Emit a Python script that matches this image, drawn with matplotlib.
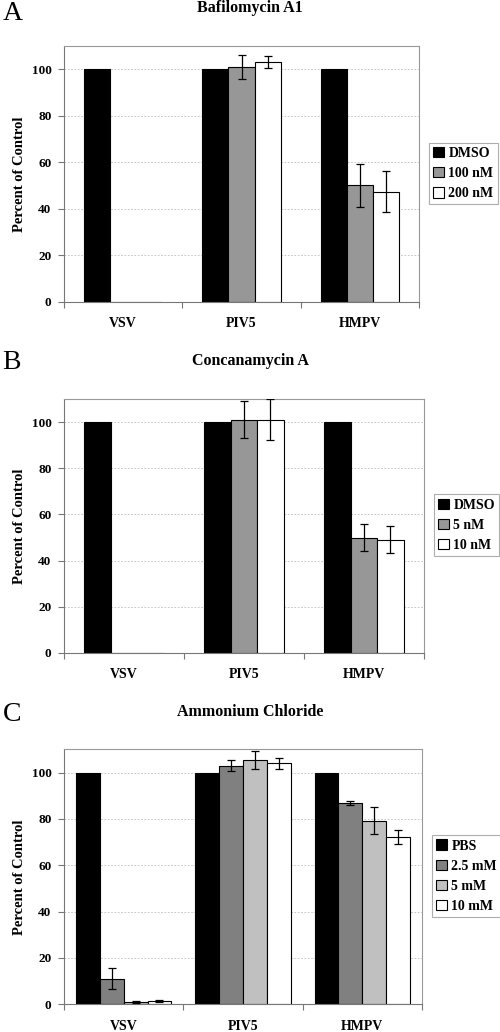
import matplotlib.pyplot as plt
import numpy as np

plt.rcParams['font.family'] = 'Liberation Serif'
plt.rcParams['font.weight'] = 'bold'

viruses = ['VSV', 'PIV5', 'HMPV']

# Panel A: Bafilomycin A1
baf_labels = ['DMSO', '100 nM', '200 nM']
baf_vals = [[100, 100, 100], [0, 101.1, 50.1], [0, 103.3, 47.4]]
baf_errs = [[0, 0, 0], [0, 5.2, 9.1], [0, 2.6, 8.9]]
baf_colors = ['#000000', '#979797', '#ffffff']

# Panel B: Concanamycin A
con_labels = ['DMSO', '5 nM', '10 nM']
con_vals = [[100, 100, 100], [0, 101.2, 49.9], [0, 101.2, 49.1]]
con_errs = [[0, 0, 0], [0, 8.0, 5.9], [0, 9.0, 6.0]]
con_colors = ['#000000', '#979797', '#ffffff']

# Panel C: Ammonium Chloride
amm_labels = ['PBS', '2.5 mM', '5 mM', '10 mM']
amm_vals = [[100, 100, 100], [11.1, 102.9, 86.8], [1.0, 105.5, 79.3], [1.4, 104.0, 72.1]]
amm_errs = [[0, 0, 0], [4.4, 2.4, 0.7], [0.3, 3.9, 5.7], [0.5, 2.3, 2.9]]
amm_colors = ['#000000', '#808080', '#c0c0c0', '#ffffff']

panels = [
    ('A', 'Bafilomycin A1', baf_labels, baf_vals, baf_errs, baf_colors,
     [0.128, 0.7074, 0.710, 0.248], (0.858, 0.832)),
    ('B', 'Concanamycin A', con_labels, con_vals, con_errs, con_colors,
     [0.128, 0.3675, 0.720, 0.2456], (0.868, 0.491)),
    ('C', 'Ammonium Chloride', amm_labels, amm_vals, amm_errs, amm_colors,
     [0.128, 0.0268, 0.716, 0.2471], (0.864, 0.151)),
]
title_y = [0.992, 0.650, 0.310]
letter_y = [0.987, 0.649, 0.308]

fig = plt.figure(figsize=(5, 10.32), dpi=100)
x = np.arange(len(viruses))

for i, (letter, title, labels, vals, errs, colors, rect, leg_pos) in enumerate(panels):
    ax = fig.add_axes(rect)
    n = len(labels)
    width = 0.22 if n == 3 else 0.2
    offsets = (np.arange(n) - (n - 1) / 2) * width
    for j in range(n):
        ax.bar(x + offsets[j], vals[j], width=width, color=colors[j],
               edgecolor='black', linewidth=0.8, label=labels[j], zorder=2)
        e = np.array(errs[j])
        idx = e > 0
        ax.errorbar((x + offsets[j])[idx], np.array(vals[j])[idx], yerr=e[idx],
                    fmt='none', ecolor='black', elinewidth=0.9, capsize=3,
                    capthick=0.9, zorder=3)

    ax.set_xlim(-0.5, 2.5)
    ax.set_ylim(0, 110)
    ax.set_yticks(range(0, 101, 20))
    ax.set_xticks([-0.5, 0.5, 1.5, 2.5])
    ax.set_xticklabels([])
    ax.set_xticks(x, minor=True)
    ax.set_xticklabels(viruses, minor=True, fontsize=10, fontweight='bold')
    ax.tick_params(axis='x', which='minor', length=0, pad=11)
    ax.tick_params(axis='x', which='major', length=4, direction='out', color='#777777')
    ax.tick_params(axis='y', labelsize=9.5, length=4, direction='out', color='#777777', pad=5)
    ax.grid(axis='y', linestyle=(0, (2, 2)), color='#bbbbbb', linewidth=0.6, zorder=0)
    for side in ['top', 'right']:
        ax.spines[side].set_color('#999999')
        ax.spines[side].set_linewidth(0.8)
    for side in ['left', 'bottom']:
        ax.spines[side].set_color('#777777')
        ax.spines[side].set_linewidth(0.8)
    ax.set_ylabel('Percent of Control', fontsize=10.5, fontweight='bold', labelpad=4)

    fig.text(0.5, title_y[i], title, ha='center', va='center',
             fontsize=11.5, fontweight='bold')
    fig.text(0.005, letter_y[i], letter, ha='left', va='center',
             fontsize=20, fontweight='normal')

    leg = fig.legend(*ax.get_legend_handles_labels(), loc='center left',
                     bbox_to_anchor=leg_pos, fontsize=10, frameon=True,
                     fancybox=False, edgecolor='#999999', handlelength=0.8,
                     handleheight=0.8, handletextpad=0.3, labelspacing=0.5,
                     borderpad=0.3, borderaxespad=0)
    leg.get_frame().set_linewidth(0.8)

fig.savefig('out.png', dpi=100)
